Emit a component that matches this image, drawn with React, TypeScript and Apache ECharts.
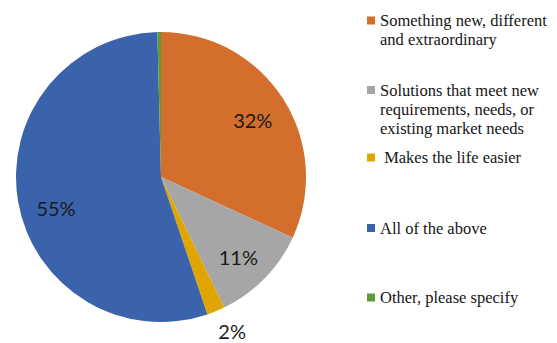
import React, { useEffect, useRef } from "react";
import * as echarts from "echarts";

// ---- data ----
const categories = [
  "Something new, different and extraordinary",
  "Solutions that meet new requirements, needs, or existing market needs",
  "Makes the life easier",
  "All of the above",
  "Other, please specify",
];
const values = [32, 11, 2, 55, 0.4];
const legendLines = [
  ["Something new, different", "and extraordinary"],
  ["Solutions that meet new", "requirements, needs, or", "existing market needs"],
  [" Makes the life easier"],
  ["All of the above"],
  ["Other, please specify"],
];
const showLabel = [true, true, true, true, false];

// ---- styles / layout ----
const colors = ["#D36E2C", "#A6A6A6", "#E1A500", "#3B63AB", "#5E9B3A"];
const CX = 161;
const CY = 177;
const R = 145;
const LABEL_RADIUS = [108, 111, 170, 109.5, 100];
const LABEL_ANGLE_SHIFT = [0.8, 1.4, -2.5, -6.5, 0];
const LEGEND_ICON_Y = [20.5, 90, 157.5, 228, 297.5];
const LH = 19;
const FS = 16.5;
const SERIF = "'Liberation Serif', 'Times New Roman', serif";

export default function App() {
  const ref = useRef<HTMLDivElement>(null);
  useEffect(() => {
    if (!ref.current) return;
    const chart = echarts.init(ref.current, undefined, { renderer: "svg" });
    const total = values.reduce((a, b) => a + b, 0);
    const legends = categories.map((name, i) => {
      const n = legendLines[i].length;
      return {
        orient: "vertical",
        left: 367,
        top: LEGEND_ICON_Y[i] - ((2 * n - 1) * LH) / 2,
        padding: 0,
        itemWidth: 8,
        itemHeight: 8,
        itemGap: 0,
        icon: "rect",
        selectedMode: false,
        data: [name],
        formatter: () => legendLines[i].map((l) => `{t|${l}}`).join("\n"),
        textStyle: {
          fontFamily: SERIF,
          fontSize: FS,
          color: "#151515",
          lineHeight: LH,
          padding: [(n - 1) * LH, 0, 0, 0],
          rich: {
            t: {
              fontFamily: SERIF,
              fontSize: FS,
              color: "#151515",
              lineHeight: LH,
            },
          },
        },
      };
    });
    chart.setOption({
      animation: false,
      backgroundColor: "#ffffff",
      color: colors,
      legend: legends,
      series: [
        {
          type: "pie",
          center: [CX, CY],
          radius: R,
          startAngle: 90,
          clockwise: true,
          avoidLabelOverlap: false,
          itemStyle: { borderWidth: 0 },
          label: {
            show: true,
            position: "inside",
            fontFamily: "Lato",
            fontSize: 20,
            color: "#1a1a1a",
            formatter: (p: any) => Math.round(p.percent) + "%",
          },
          labelLine: { show: false },
          emphasis: { disabled: true },
          labelLayout: (p: any) => {
            const i = p.dataIndex;
            let cum = 0;
            for (let j = 0; j < i; j++) cum += values[j];
            const mid = ((cum + values[i] / 2) / total) * 360 + LABEL_ANGLE_SHIFT[i];
            const rad = (mid * Math.PI) / 180;
            const r = LABEL_RADIUS[i];
            return {
              x: CX + r * Math.sin(rad),
              y: CY - r * Math.cos(rad),
              align: "center",
              verticalAlign: "middle",
            };
          },
          data: categories.map((name, i) => ({
            name,
            value: values[i],
            label: { show: showLabel[i] },
          })),
        },
      ],
    });
    return () => chart.dispose();
  }, []);
  return (
    <div
      ref={ref}
      style={{ position: "fixed", left: 0, top: 0, width: 557, height: 343 }}
    />
  );
}
